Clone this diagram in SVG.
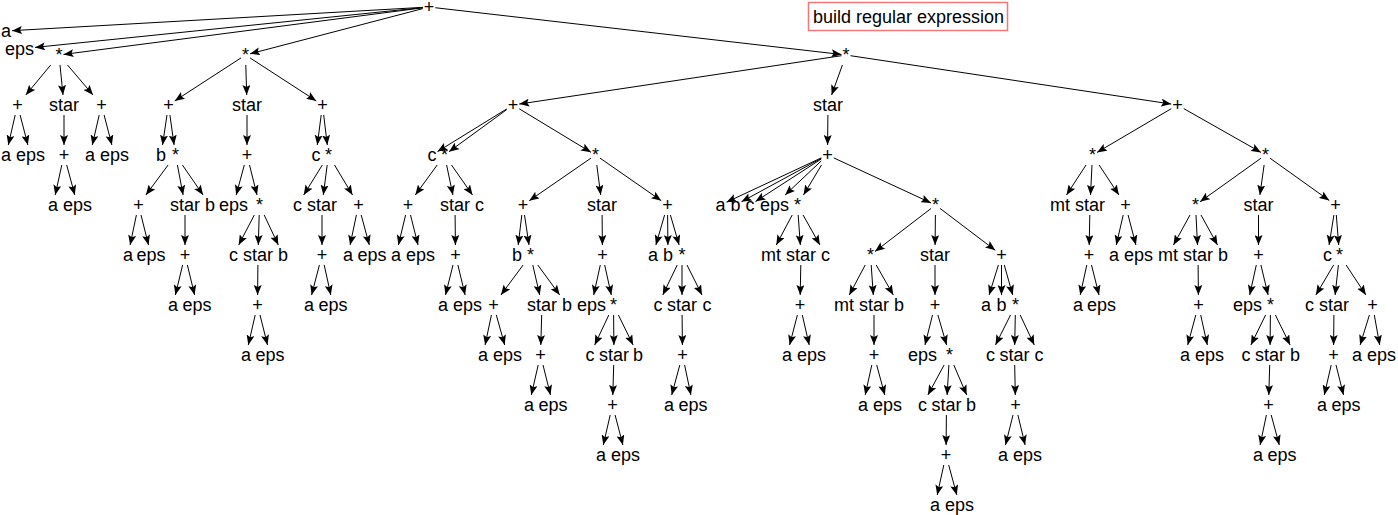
<svg xmlns="http://www.w3.org/2000/svg" width="1398" height="515" viewBox="0 0 1398 515">
<style>
text{font-family:"Liberation Sans",Arial,sans-serif;font-size:18px;fill:#000;text-anchor:middle}
.e line{stroke:#000;stroke-width:1;marker-end:url(#ah)}
.title{text-anchor:start}
</style>
<defs>
<marker id="ah" markerWidth="10" markerHeight="8" refX="10" refY="4" orient="auto" markerUnits="userSpaceOnUse"><path d="M0,0 L10,4 L0,8 L2,4 z" fill="#000"/></marker>
</defs>
<rect width="1398" height="515" fill="#fff"/>
<g id="legend"><rect x="808.5" y="2.5" width="199" height="28" fill="#fff" stroke="#f07878" stroke-width="1.5"/><text class="title" x="813" y="23">build regular expression</text></g>
<g id="connectors" class="e">
<line x1="422.75" y1="7.35" x2="12" y2="30.66"/>
<line x1="422.75" y1="7.64" x2="35" y2="47.41"/>
<line x1="422.75" y1="7.81" x2="63.5" y2="54.42"/>
<line x1="422.75" y1="8.63" x2="250" y2="53.82"/>
<line x1="435.25" y1="7.72" x2="841.5" y2="54.48"/>
<line x1="50.7" y1="65" x2="25.8" y2="95"/>
<line x1="60" y1="65" x2="63" y2="95"/>
<line x1="67.5" y1="65" x2="93" y2="95"/>
<line x1="15.2" y1="115" x2="8.3" y2="145"/>
<line x1="20.1" y1="115" x2="27.9" y2="145"/>
<line x1="64" y1="115" x2="64" y2="145"/>
<line x1="61.8" y1="165" x2="55.2" y2="195"/>
<line x1="66.7" y1="165" x2="74.8" y2="195"/>
<line x1="99.2" y1="115" x2="92.3" y2="145"/>
<line x1="104.1" y1="115" x2="111.9" y2="145"/>
<line x1="241" y1="57.9" x2="174.75" y2="100.9"/>
<line x1="245.8" y1="65" x2="246.7" y2="95"/>
<line x1="250" y1="57.9" x2="316.25" y2="100.9"/>
<line x1="167" y1="115" x2="162.5" y2="145"/>
<line x1="169.9" y1="115" x2="174.1" y2="145"/>
<line x1="168.1" y1="165" x2="145.9" y2="195"/>
<line x1="177.4" y1="165" x2="183.1" y2="195"/>
<line x1="182.4" y1="165" x2="203.1" y2="195"/>
<line x1="136.4" y1="215" x2="130.1" y2="245"/>
<line x1="141" y1="215" x2="148.5" y2="245"/>
<line x1="185" y1="215" x2="185" y2="245"/>
<line x1="182.6" y1="265" x2="175.4" y2="295"/>
<line x1="187.4" y1="265" x2="194.6" y2="295"/>
<line x1="247" y1="115" x2="247" y2="145"/>
<line x1="244.3" y1="165" x2="236.2" y2="195"/>
<line x1="249.5" y1="165" x2="257" y2="195"/>
<line x1="254.3" y1="215" x2="238.7" y2="245"/>
<line x1="259.2" y1="215" x2="258.3" y2="245"/>
<line x1="264.2" y1="215" x2="278.3" y2="245"/>
<line x1="257.9" y1="265" x2="257.6" y2="295"/>
<line x1="255.2" y1="315" x2="248.3" y2="345"/>
<line x1="260" y1="315" x2="267.5" y2="345"/>
<line x1="321.2" y1="115" x2="317.3" y2="145"/>
<line x1="323.7" y1="115" x2="327.3" y2="145"/>
<line x1="322.3" y1="165" x2="303.7" y2="195"/>
<line x1="327.2" y1="165" x2="323.3" y2="195"/>
<line x1="334.5" y1="165" x2="352.5" y2="195"/>
<line x1="322" y1="215" x2="322" y2="245"/>
<line x1="319.4" y1="265" x2="311.6" y2="295"/>
<line x1="324.2" y1="265" x2="330.8" y2="295"/>
<line x1="356.4" y1="215" x2="350.1" y2="245"/>
<line x1="361.2" y1="215" x2="369.3" y2="245"/>
<line x1="841.5" y1="55.7" x2="519.25" y2="104.06"/>
<line x1="842.4" y1="65" x2="831.6" y2="95"/>
<line x1="850.5" y1="55.7" x2="1171.25" y2="104.06"/>
<line x1="506.75" y1="108.9" x2="437.5" y2="151.6"/>
<line x1="506.75" y1="109.6" x2="449" y2="151.7"/>
<line x1="519.25" y1="108.8" x2="591" y2="152.3"/>
<line x1="437.2" y1="165" x2="415.3" y2="195"/>
<line x1="446.6" y1="165" x2="452.9" y2="195"/>
<line x1="451.5" y1="165" x2="472.5" y2="195"/>
<line x1="405.6" y1="215" x2="398.4" y2="245"/>
<line x1="410.5" y1="215" x2="418" y2="245"/>
<line x1="455.1" y1="215" x2="455.4" y2="245"/>
<line x1="453" y1="265" x2="445.5" y2="295"/>
<line x1="457.9" y1="265" x2="465.1" y2="295"/>
<line x1="591" y1="158.1" x2="529.25" y2="200.7"/>
<line x1="596.8" y1="165" x2="600.7" y2="195"/>
<line x1="600" y1="158.1" x2="661.25" y2="200.7"/>
<line x1="521.8" y1="215" x2="518.2" y2="245"/>
<line x1="524.5" y1="215" x2="529" y2="245"/>
<line x1="523.1" y1="265" x2="500.9" y2="295"/>
<line x1="532.8" y1="265" x2="539.7" y2="295"/>
<line x1="537.8" y1="265" x2="559.7" y2="295"/>
<line x1="491.4" y1="315" x2="485.1" y2="345"/>
<line x1="496.3" y1="315" x2="504.7" y2="345"/>
<line x1="541.7" y1="315" x2="540.8" y2="345"/>
<line x1="538.2" y1="365" x2="531.3" y2="395"/>
<line x1="543" y1="365" x2="550.5" y2="395"/>
<line x1="602.1" y1="215" x2="602.4" y2="245"/>
<line x1="600.3" y1="265" x2="593.7" y2="295"/>
<line x1="604.7" y1="265" x2="611.3" y2="295"/>
<line x1="608.8" y1="315" x2="594.7" y2="345"/>
<line x1="613.6" y1="315" x2="613.9" y2="345"/>
<line x1="618.4" y1="315" x2="633.1" y2="345"/>
<line x1="613.7" y1="365" x2="612.8" y2="395"/>
<line x1="610.2" y1="415" x2="603.3" y2="445"/>
<line x1="615.1" y1="415" x2="622.9" y2="445"/>
<line x1="664.6" y1="215" x2="655.9" y2="245"/>
<line x1="667.6" y1="215" x2="667.9" y2="245"/>
<line x1="670.4" y1="215" x2="679.1" y2="245"/>
<line x1="677.2" y1="265" x2="662.8" y2="295"/>
<line x1="682" y1="265" x2="682" y2="295"/>
<line x1="687" y1="265" x2="702" y2="295"/>
<line x1="682.1" y1="315" x2="682.4" y2="345"/>
<line x1="679.8" y1="365" x2="671.7" y2="395"/>
<line x1="684.6" y1="365" x2="690.9" y2="395"/>
<line x1="827.9" y1="115" x2="827.6" y2="145"/>
<line x1="821.25" y1="157.9" x2="726.5" y2="202.2"/>
<line x1="821.25" y1="158.4" x2="741.5" y2="201.7"/>
<line x1="821.25" y1="159" x2="755.5" y2="201.5"/>
<line x1="821.25" y1="160.9" x2="785.1" y2="195"/>
<line x1="821.5" y1="165" x2="803.5" y2="195"/>
<line x1="833.75" y1="157.9" x2="931" y2="202.9"/>
<line x1="792.2" y1="215" x2="776.3" y2="245"/>
<line x1="798.2" y1="215" x2="800.3" y2="245"/>
<line x1="803.1" y1="215" x2="819.9" y2="245"/>
<line x1="800.8" y1="265" x2="800.2" y2="295"/>
<line x1="797.4" y1="315" x2="789.6" y2="345"/>
<line x1="802.3" y1="315" x2="809.2" y2="345"/>
<line x1="931" y1="208.5" x2="875" y2="251.5"/>
<line x1="935.4" y1="215" x2="935.1" y2="245"/>
<line x1="940" y1="208.4" x2="995.25" y2="250.3"/>
<line x1="865.2" y1="265" x2="849.3" y2="295"/>
<line x1="871.2" y1="265" x2="873.3" y2="295"/>
<line x1="876.2" y1="265" x2="893.3" y2="295"/>
<line x1="874" y1="315" x2="874" y2="345"/>
<line x1="871.8" y1="365" x2="865.2" y2="395"/>
<line x1="876.7" y1="365" x2="884.8" y2="395"/>
<line x1="935" y1="265" x2="935" y2="295"/>
<line x1="932.5" y1="315" x2="925" y2="345"/>
<line x1="937.9" y1="315" x2="946.6" y2="345"/>
<line x1="944.1" y1="365" x2="927.9" y2="395"/>
<line x1="948.9" y1="365" x2="947.1" y2="395"/>
<line x1="953.8" y1="365" x2="966.7" y2="395"/>
<line x1="946.4" y1="415" x2="946.1" y2="445"/>
<line x1="943.8" y1="465" x2="937.2" y2="495"/>
<line x1="948.7" y1="465" x2="956.8" y2="495"/>
<line x1="998.4" y1="265" x2="989.1" y2="295"/>
<line x1="1001.5" y1="265" x2="1001.5" y2="295"/>
<line x1="1004.3" y1="265" x2="1012.7" y2="295"/>
<line x1="1010.5" y1="315" x2="995.5" y2="345"/>
<line x1="1015.3" y1="315" x2="1014.7" y2="345"/>
<line x1="1020.2" y1="315" x2="1034.3" y2="345"/>
<line x1="1014.7" y1="365" x2="1015.3" y2="395"/>
<line x1="1013" y1="415" x2="1005.5" y2="445"/>
<line x1="1017.9" y1="415" x2="1025.1" y2="445"/>
<line x1="1171.25" y1="108.7" x2="1097" y2="152.4"/>
<line x1="1183.75" y1="108.6" x2="1261" y2="152.4"/>
<line x1="1086" y1="165" x2="1066.5" y2="195"/>
<line x1="1092" y1="165" x2="1090.5" y2="195"/>
<line x1="1099.1" y1="165" x2="1118.9" y2="195"/>
<line x1="1089.8" y1="215" x2="1089.2" y2="245"/>
<line x1="1086.8" y1="265" x2="1080.2" y2="295"/>
<line x1="1091.5" y1="265" x2="1099" y2="295"/>
<line x1="1123.2" y1="215" x2="1116.3" y2="245"/>
<line x1="1128.1" y1="215" x2="1135.9" y2="245"/>
<line x1="1261" y1="158.2" x2="1200" y2="201.8"/>
<line x1="1264.1" y1="165" x2="1259.9" y2="195"/>
<line x1="1270" y1="158.2" x2="1329.25" y2="200.5"/>
<line x1="1190" y1="215" x2="1173.5" y2="245"/>
<line x1="1196" y1="215" x2="1197.5" y2="245"/>
<line x1="1201" y1="215" x2="1217.5" y2="245"/>
<line x1="1198.1" y1="265" x2="1198.4" y2="295"/>
<line x1="1195.8" y1="315" x2="1187.7" y2="345"/>
<line x1="1200.7" y1="315" x2="1207.3" y2="345"/>
<line x1="1258.5" y1="215" x2="1258.5" y2="245"/>
<line x1="1256.3" y1="265" x2="1249.7" y2="295"/>
<line x1="1260.9" y1="265" x2="1268.1" y2="295"/>
<line x1="1265.6" y1="315" x2="1250.9" y2="345"/>
<line x1="1270.4" y1="315" x2="1270.1" y2="345"/>
<line x1="1275.4" y1="315" x2="1290.1" y2="345"/>
<line x1="1269.7" y1="365" x2="1268.8" y2="395"/>
<line x1="1266.4" y1="415" x2="1260.1" y2="445"/>
<line x1="1271.2" y1="415" x2="1279.3" y2="445"/>
<line x1="1333.9" y1="215" x2="1329.1" y2="245"/>
<line x1="1336.3" y1="215" x2="1338.7" y2="245"/>
<line x1="1333.6" y1="265" x2="1315.9" y2="295"/>
<line x1="1338.4" y1="265" x2="1335.1" y2="295"/>
<line x1="1346.1" y1="265" x2="1365.9" y2="295"/>
<line x1="1333.9" y1="315" x2="1333.6" y2="345"/>
<line x1="1331.2" y1="365" x2="1324.3" y2="395"/>
<line x1="1336" y1="365" x2="1343.5" y2="395"/>
<line x1="1369.4" y1="315" x2="1360.1" y2="345"/>
<line x1="1374.3" y1="315" x2="1379.7" y2="345"/>
</g>
<g id="root"><text x="429" y="13">+</text></g>
<g id="r_a"><text x="6" y="37">a</text></g>
<g id="r_eps"><text x="19.5" y="55">eps</text></g>
<g id="A"><text x="59" y="61">*</text></g>
<g id="A1"><text x="17.5" y="111">+</text></g>
<g id="A1a"><text x="6" y="161">a</text></g>
<g id="A1e"><text x="30.5" y="161">eps</text></g>
<g id="A2"><text x="64" y="111">star</text></g>
<g id="A2p"><text x="64" y="161">+</text></g>
<g id="A2pa"><text x="53" y="211">a</text></g>
<g id="A2pe"><text x="77.5" y="211">eps</text></g>
<g id="A3"><text x="101.5" y="111">+</text></g>
<g id="A3a"><text x="90" y="161">a</text></g>
<g id="A3e"><text x="114.5" y="161">eps</text></g>
<g id="B"><text x="245.5" y="61">*</text></g>
<g id="B1"><text x="168.5" y="111">+</text></g>
<g id="B1b"><text x="161" y="161">b</text></g>
<g id="B1s"><text x="175.5" y="161">*</text></g>
<g id="B1s1"><text x="138.5" y="211">+</text></g>
<g id="B1s1a"><text x="128" y="261">a</text></g>
<g id="B1s1e"><text x="151" y="261">eps</text></g>
<g id="B1s2"><text x="185" y="211">star</text></g>
<g id="B1s2p"><text x="185" y="261">+</text></g>
<g id="B1s2pa"><text x="173" y="311">a</text></g>
<g id="B1s2pe"><text x="197" y="311">eps</text></g>
<g id="B1s3"><text x="210" y="211">b</text></g>
<g id="B2"><text x="247" y="111">star</text></g>
<g id="B2p"><text x="247" y="161">+</text></g>
<g id="B2pe"><text x="233.5" y="211">eps</text></g>
<g id="B2ps"><text x="259.5" y="211">*</text></g>
<g id="B2psc"><text x="233.5" y="261">c</text></g>
<g id="B2pss"><text x="258" y="261">star</text></g>
<g id="B2pssp"><text x="257.5" y="311">+</text></g>
<g id="B2psspa"><text x="246" y="361">a</text></g>
<g id="B2psspe"><text x="270" y="361">eps</text></g>
<g id="B2psb"><text x="283" y="261">b</text></g>
<g id="B3"><text x="322.5" y="111">+</text></g>
<g id="B3c"><text x="316" y="161">c</text></g>
<g id="B3s"><text x="328.5" y="161">*</text></g>
<g id="B3sc"><text x="297.5" y="211">c</text></g>
<g id="B3ss"><text x="322" y="211">star</text></g>
<g id="B3ssp"><text x="322" y="261">+</text></g>
<g id="B3sspa"><text x="309" y="311">a</text></g>
<g id="B3sspe"><text x="333" y="311">eps</text></g>
<g id="B3sp"><text x="358.5" y="211">+</text></g>
<g id="B3spa"><text x="348" y="261">a</text></g>
<g id="B3spe"><text x="372" y="261">eps</text></g>
<g id="C"><text x="846" y="61">*</text></g>
<g id="C1"><text x="513" y="111">+</text></g>
<g id="C1c"><text x="432" y="161">c</text></g>
<g id="C1s"><text x="444.5" y="161">*</text></g>
<g id="C1s1"><text x="408" y="211">+</text></g>
<g id="C1s1a"><text x="396" y="261">a</text></g>
<g id="C1s1e"><text x="420.5" y="261">eps</text></g>
<g id="C1s2"><text x="455" y="211">star</text></g>
<g id="C1s2p"><text x="455.5" y="261">+</text></g>
<g id="C1s2pa"><text x="443" y="311">a</text></g>
<g id="C1s2pe"><text x="467.5" y="311">eps</text></g>
<g id="C1s3"><text x="479.5" y="211">c</text></g>
<g id="C1t"><text x="595.5" y="161">*</text></g>
<g id="C1t1"><text x="523" y="211">+</text></g>
<g id="C1t1b"><text x="517" y="261">b</text></g>
<g id="C1t1s"><text x="530.5" y="261">*</text></g>
<g id="C1t1s1"><text x="493.5" y="311">+</text></g>
<g id="C1t1s1a"><text x="483" y="361">a</text></g>
<g id="C1t1s1e"><text x="507.5" y="361">eps</text></g>
<g id="C1t1s2"><text x="542" y="311">star</text></g>
<g id="C1t1s2p"><text x="540.5" y="361">+</text></g>
<g id="C1t1s2pa"><text x="529" y="411">a</text></g>
<g id="C1t1s2pe"><text x="553" y="411">eps</text></g>
<g id="C1t1s3"><text x="567" y="311">b</text></g>
<g id="C1t2"><text x="602" y="211">star</text></g>
<g id="C1t2p"><text x="602.5" y="261">+</text></g>
<g id="C1t2pe"><text x="591.5" y="311">eps</text></g>
<g id="C1t2ps"><text x="613.5" y="311">*</text></g>
<g id="C1t2psc"><text x="590" y="361">c</text></g>
<g id="C1t2pss"><text x="614" y="361">star</text></g>
<g id="C1t2pssp"><text x="612.5" y="411">+</text></g>
<g id="C1t2psspa"><text x="601" y="461">a</text></g>
<g id="C1t2psspe"><text x="625.5" y="461">eps</text></g>
<g id="C1t2psb"><text x="638" y="361">b</text></g>
<g id="C1t3"><text x="667.5" y="211">+</text></g>
<g id="C1t3a"><text x="653" y="261">a</text></g>
<g id="C1t3b"><text x="668" y="261">b</text></g>
<g id="C1t3s"><text x="682" y="261">*</text></g>
<g id="C1t3sc"><text x="658" y="311">c</text></g>
<g id="C1t3ss"><text x="682" y="311">star</text></g>
<g id="C1t3ssp"><text x="682.5" y="361">+</text></g>
<g id="C1t3sspa"><text x="669" y="411">a</text></g>
<g id="C1t3sspe"><text x="693" y="411">eps</text></g>
<g id="C1t3sc2"><text x="707" y="311">c</text></g>
<g id="C2"><text x="828" y="111">star</text></g>
<g id="C2p"><text x="827.5" y="161">+</text></g>
<g id="C2pa"><text x="720.5" y="211">a</text></g>
<g id="C2pb"><text x="735.5" y="211">b</text></g>
<g id="C2pc"><text x="750" y="211">c</text></g>
<g id="C2pe"><text x="774.5" y="211">eps</text></g>
<g id="C2ps"><text x="797.5" y="211">*</text></g>
<g id="C2psm"><text x="771" y="261">mt</text></g>
<g id="C2pss"><text x="801" y="261">star</text></g>
<g id="C2pssp"><text x="800" y="311">+</text></g>
<g id="C2psspa"><text x="787" y="361">a</text></g>
<g id="C2psspe"><text x="811.5" y="361">eps</text></g>
<g id="C2psc"><text x="825.5" y="261">c</text></g>
<g id="C2pt"><text x="935.5" y="211">*</text></g>
<g id="C2pt1"><text x="870.5" y="261">*</text></g>
<g id="C2pt1m"><text x="844" y="311">mt</text></g>
<g id="C2pt1s"><text x="874" y="311">star</text></g>
<g id="C2pt1sp"><text x="874" y="361">+</text></g>
<g id="C2pt1spa"><text x="863" y="411">a</text></g>
<g id="C2pt1spe"><text x="887.5" y="411">eps</text></g>
<g id="C2pt1b"><text x="899" y="311">b</text></g>
<g id="C2pt2"><text x="935" y="261">star</text></g>
<g id="C2pt2p"><text x="935" y="311">+</text></g>
<g id="C2pt2pe"><text x="922.5" y="361">eps</text></g>
<g id="C2pt2ps"><text x="949.5" y="361">*</text></g>
<g id="C2pt2psc"><text x="922.5" y="411">c</text></g>
<g id="C2pt2pss"><text x="946.5" y="411">star</text></g>
<g id="C2pt2pssp"><text x="946" y="461">+</text></g>
<g id="C2pt2psspa"><text x="935" y="511">a</text></g>
<g id="C2pt2psspe"><text x="959.5" y="511">eps</text></g>
<g id="C2pt2psb"><text x="971" y="411">b</text></g>
<g id="C2pt3"><text x="1001.5" y="261">+</text></g>
<g id="C2pt3a"><text x="986" y="311">a</text></g>
<g id="C2pt3b"><text x="1001.5" y="311">b</text></g>
<g id="C2pt3s"><text x="1015.5" y="311">*</text></g>
<g id="C2pt3sc"><text x="990.5" y="361">c</text></g>
<g id="C2pt3ss"><text x="1014.5" y="361">star</text></g>
<g id="C2pt3ssp"><text x="1015.5" y="411">+</text></g>
<g id="C2pt3sspa"><text x="1003" y="461">a</text></g>
<g id="C2pt3sspe"><text x="1027.5" y="461">eps</text></g>
<g id="C2pt3sc2"><text x="1039" y="361">c</text></g>
<g id="C3"><text x="1177.5" y="111">+</text></g>
<g id="C3a"><text x="1092.5" y="161">*</text></g>
<g id="C3am"><text x="1060" y="211">mt</text></g>
<g id="C3as"><text x="1090" y="211">star</text></g>
<g id="C3asp"><text x="1089" y="261">+</text></g>
<g id="C3aspa"><text x="1078" y="311">a</text></g>
<g id="C3aspe"><text x="1101.5" y="311">eps</text></g>
<g id="C3ap"><text x="1125.5" y="211">+</text></g>
<g id="C3apa"><text x="1114" y="261">a</text></g>
<g id="C3ape"><text x="1138.5" y="261">eps</text></g>
<g id="C3b"><text x="1265.5" y="161">*</text></g>
<g id="C3b1"><text x="1195.5" y="211">*</text></g>
<g id="C3b1m"><text x="1168" y="261">mt</text></g>
<g id="C3b1s"><text x="1198" y="261">star</text></g>
<g id="C3b1sp"><text x="1198.5" y="311">+</text></g>
<g id="C3b1spa"><text x="1185" y="361">a</text></g>
<g id="C3b1spe"><text x="1209.5" y="361">eps</text></g>
<g id="C3b1b"><text x="1223" y="261">b</text></g>
<g id="C3b2"><text x="1258.5" y="211">star</text></g>
<g id="C3b2p"><text x="1258.5" y="261">+</text></g>
<g id="C3b2pe"><text x="1247.5" y="311">eps</text></g>
<g id="C3b2ps"><text x="1270.5" y="311">*</text></g>
<g id="C3b2psc"><text x="1246" y="361">c</text></g>
<g id="C3b2pss"><text x="1270" y="361">star</text></g>
<g id="C3b2pssp"><text x="1268.5" y="411">+</text></g>
<g id="C3b2psspa"><text x="1258" y="461">a</text></g>
<g id="C3b2psspe"><text x="1282" y="461">eps</text></g>
<g id="C3b2psb"><text x="1295" y="361">b</text></g>
<g id="C3b3"><text x="1335.5" y="211">+</text></g>
<g id="C3b3c"><text x="1327.5" y="261">c</text></g>
<g id="C3b3s"><text x="1339.5" y="261">*</text></g>
<g id="C3b3sc"><text x="1309.5" y="311">c</text></g>
<g id="C3b3ss"><text x="1334" y="311">star</text></g>
<g id="C3b3ssp"><text x="1333.5" y="361">+</text></g>
<g id="C3b3sspa"><text x="1322" y="411">a</text></g>
<g id="C3b3sspe"><text x="1346" y="411">eps</text></g>
<g id="C3b3sp"><text x="1372.5" y="311">+</text></g>
<g id="C3b3spa"><text x="1357" y="361">a</text></g>
<g id="C3b3spe"><text x="1381.5" y="361">eps</text></g>
</svg>
